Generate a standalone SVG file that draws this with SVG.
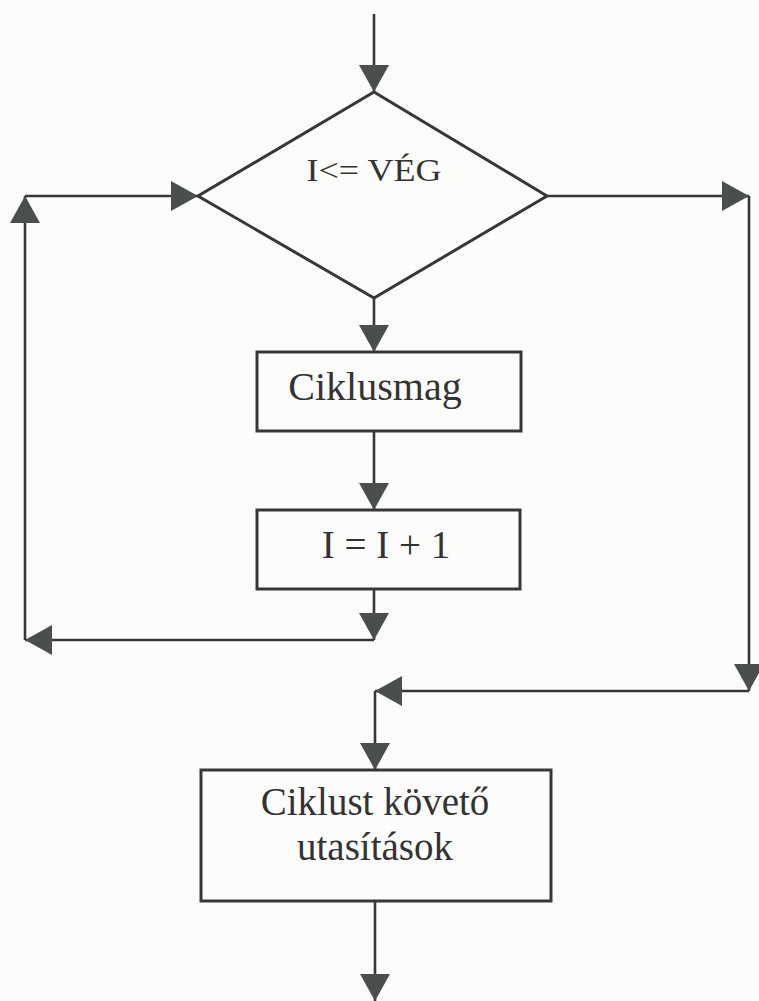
<svg xmlns="http://www.w3.org/2000/svg" width="759" height="1001" viewBox="0 0 759 1001">
  <style>
    .shape { fill: none; stroke: #363838; stroke-width: 3; }
    .conn { fill: none; stroke: #363838; stroke-width: 2.6; }
    .label { font-family: "Liberation Serif", "Times New Roman", serif; fill: #333; text-anchor: middle; }
  </style>
  <defs>
    <marker id="arrow" viewBox="0 0 27 30" refX="27" refY="15" markerWidth="27" markerHeight="30" markerUnits="userSpaceOnUse" orient="auto">
      <path d="M0,0 L27,15 L0,30 z" fill="#4a4e4e"/>
    </marker>
  </defs>
  <rect width="759" height="1001" fill="#fcfcfb"/>

  <g id="connectors">
    <path class="conn" d="M374,14 V92" marker-end="url(#arrow)"/>
    <path class="conn" d="M374,298 V352" marker-end="url(#arrow)"/>
    <path class="conn" d="M374,431 V510" marker-end="url(#arrow)"/>
    <path class="conn" d="M374,589 V640" marker-end="url(#arrow)"/>
    <path class="conn" d="M374,640 H25" marker-end="url(#arrow)"/>
    <path class="conn" d="M25,640 V196" marker-end="url(#arrow)"/>
    <path class="conn" d="M25,196 H198" marker-end="url(#arrow)"/>
    <path class="conn" d="M547,196 H749" marker-end="url(#arrow)"/>
    <path class="conn" d="M749,196 V691" marker-end="url(#arrow)"/>
    <path class="conn" d="M749,691 H375" marker-end="url(#arrow)"/>
    <path class="conn" d="M375,691 V770" marker-end="url(#arrow)"/>
    <path class="conn" d="M375,901 V1001" marker-end="url(#arrow)"/>
  </g>

  <g id="decision">
    <polygon class="shape" points="374,92 547,196 374,298 198,196"/>
    <text class="label" x="374" y="181" font-size="31" textLength="135" lengthAdjust="spacingAndGlyphs">I&lt;= VÉG</text>
  </g>

  <g id="ciklusmag">
    <rect class="shape" x="257" y="352" width="264" height="79"/>
    <text class="label" x="375" y="400" font-size="40">Ciklusmag</text>
  </g>

  <g id="increment">
    <rect class="shape" x="257" y="510" width="263" height="79"/>
    <text class="label" x="386" y="558" font-size="39">I = I + 1</text>
  </g>

  <g id="after-loop">
    <rect class="shape" x="201" y="770" width="350" height="131"/>
    <text class="label" x="375" y="815" font-size="39">Ciklust követő</text>
    <text class="label" x="375" y="860" font-size="39">utasítások</text>
  </g>
</svg>
